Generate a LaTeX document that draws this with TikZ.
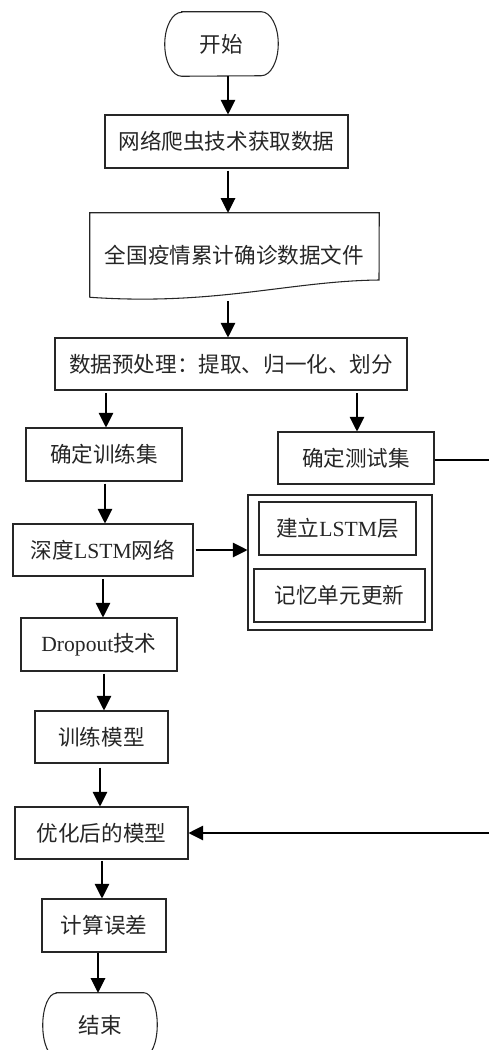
\documentclass[tikz,border=0pt]{standalone}
\usepackage{fontspec}
\setmainfont{Liberation Serif}
\newfontfamily\cjk{Noto Sans CJK SC}
\usetikzlibrary{arrows.meta}
\begin{document}
\begin{tikzpicture}[x=0.75pt,y=-0.75pt,
  line/.style={draw=black!85,line width=0.8pt},
  sz/.style 2 args={minimum width={#1*0.75pt},minimum height={#2*0.75pt}},
  plain/.style={rectangle,inner sep=0pt,font=\cjk\fontsize{16.2}{18}\selectfont,text=black!85},
  box/.style={plain,line},
  arr/.style={draw=black,line width=0.8pt,-{Triangle[length=11pt,width=11pt]}}]
\useasboundingbox (0,0) rectangle (489,1050);

% nodes
\node[plain,sz={113}{64}] (start) at (221.5,44) {开始};
\node[box,sz={243}{53}] (crawl) at (226.5,141.5) {网络爬虫技术获取数据};
\node[plain,sz={289}{84}] (doc) at (234.5,255) {全国疫情累计确诊数据文件};
\node[box,sz={352}{52}] (pre) at (231,364) {数据预处理：提取、归一化、划分};
\node[box,sz={156}{53}] (train) at (104,454.5) {确定训练集};
\node[box,sz={156}{52}] (test) at (356,458) {确定测试集};
\node[box,sz={180}{52}] (deep) at (103,550) {深度{\rmfamily LSTM}网络};
\node[box,sz={184}{135}] (outer) at (340,562.5) {};
\node[box,sz={157}{53}] (lstm) at (337.5,528.5) {建立{\rmfamily LSTM}层};
\node[box,sz={171}{53}] (mem) at (339.5,595.5) {记忆单元更新};
\node[box,sz={156}{53}] (drop) at (99,644.5) {{\rmfamily Dropout}技术};
\node[box,sz={133}{52}] (tm) at (101.5,737) {训练模型};
\node[box,sz={173}{52}] (opt) at (101.5,833) {优化后的模型};
\node[box,sz={124}{53}] (err) at (104,925.5) {计算误差};
\node[plain,sz={114}{64}] (end) at (100,1025) {结束};

% terminator outlines
\draw[line] ([xshift=12.75pt]start.north west) -- ([xshift=-12.75pt]start.north east)
  arc[start angle=90,end angle=-90,x radius=12.75pt,y radius=24pt]
  -- ([xshift=12.75pt]start.south west)
  arc[start angle=270,end angle=90,x radius=12.75pt,y radius=24pt] -- cycle;
\draw[line] ([xshift=10pt]end.north west) -- ([xshift=-10pt]end.north east)
  arc[start angle=90,end angle=-90,x radius=10pt,y radius=24pt]
  -- ([xshift=10pt]end.south west)
  arc[start angle=270,end angle=90,x radius=10pt,y radius=24pt] -- cycle;

% document outline
\draw[line] (doc.south west) -- (doc.north west) -- (doc.north east) -- (379,280)
  .. controls (290,281) and (215,306) .. (doc.south west);

% x positions of vertical connectors
\coordinate (xa) at (228,0);
\coordinate (xb) at (106,0);
\coordinate (xc) at (357,0);
\coordinate (xd) at (105,0);
\coordinate (xe) at (103,0);
\coordinate (xf) at (104,0);
\coordinate (xg) at (100,0);
\coordinate (xh) at (102,0);
\coordinate (xi) at (98,0);

\draw[arr] (start.south -| xa) -- (crawl.north -| xa);
\draw[arr] ([yshift=-1.5pt]crawl.south -| xa) -- (doc.north -| xa);
\draw[arr] ([yshift=-3pt]doc.south -| xa) -- (pre.north -| xa);
\draw[arr] ([yshift=-2pt]pre.south -| xb) -- (train.north -| xb);
\draw[arr] ([yshift=-2pt]pre.south -| xc) -- (test.north -| xc);
\draw[arr] ([yshift=-1.5pt]train.south -| xd) -- (deep.north -| xd);
\draw[arr] ([yshift=-2pt]deep.south -| xe) -- (drop.north -| xe);
\draw[arr] ([yshift=-1.5pt]drop.south -| xf) -- (tm.north -| xf);
\draw[arr] ([yshift=-3pt]tm.south -| xg) -- (opt.north -| xg);
\draw[arr] ([yshift=-1pt]opt.south -| xh) -- (err.north -| xh);
\draw[arr] (err.south -| xi) -- (end.north -| xi);

\draw[arr] ([xshift=1.5pt]deep.east) -- (outer.west |- deep.east);

\coordinate (r1) at (491,460);
\coordinate (r2) at (491,833);
\draw[arr] (test.east |- r1) -- (r1) -- (r2) -- (opt.east |- r2);
\end{tikzpicture}
\end{document}
